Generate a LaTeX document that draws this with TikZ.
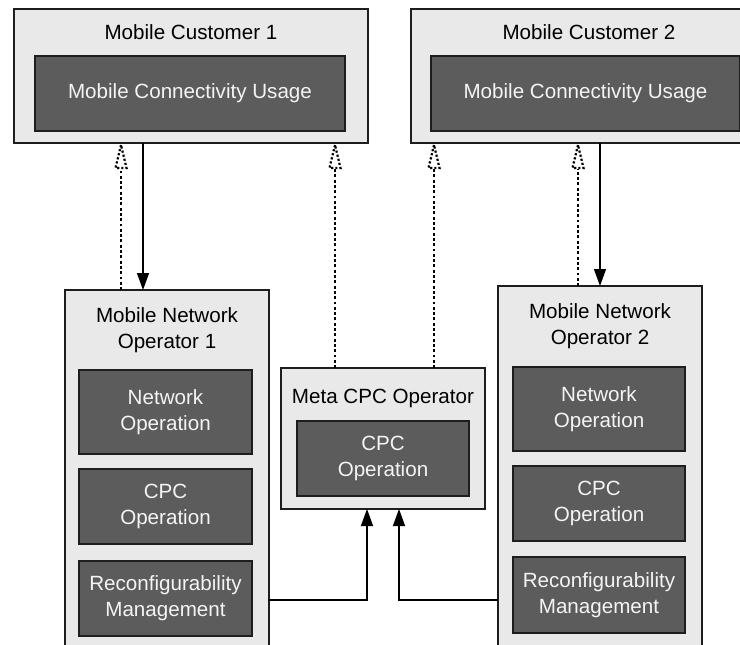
\documentclass[tikz,border=0pt]{standalone}
\usepackage{fontspec}
\setmainfont{Liberation Sans}
\usetikzlibrary{arrows.meta,calc}

\definecolor{panel}{HTML}{E9E9E9}
\definecolor{block}{HTML}{5C5C5C}
\definecolor{edge}{HTML}{1E1E1E}
\definecolor{blockfont}{HTML}{F4F4F4}

\begin{document}
\begin{tikzpicture}[x=1pt,y=-1pt,
  every node/.style={font=\fontsize{20.6}{26}\selectfont, inner sep=0pt, outer sep=0pt},
  panelbox/.style={draw=edge, fill=panel, line width=1.4pt, anchor=north west},
  blockbox/.style={draw=edge, fill=block, line width=1.5pt, anchor=north west,
                   text=blockfont, align=center},
  titletext/.style={text=black, align=center},
  feed/.style={draw=black, line width=1.4pt, -{Triangle[length=17pt,width=12pt]}},
  dotline/.style={draw=black, line width=2.9pt, dash pattern=on 2.9pt off 2.4pt},
  dothead/.style={draw=black, line width=2.2pt, dash pattern=on 2.2pt off 2.0pt},
]
\useasboundingbox (0,0) rectangle (740,645);
\fill[white] (0,0) rectangle (740,645);
\clip (0,0) rectangle (740,645);

% customers
\node[panelbox, minimum width=354pt, minimum height=134pt] (mc1) at (14,9) {};
\node[titletext, anchor=base] (mc1t) at (191,39) {Mobile Customer 1};
\node[blockbox, minimum width=310pt, minimum height=75pt] (mcu1) at (35,56) {Mobile Connectivity Usage};

\node[panelbox, minimum width=360pt, minimum height=134pt] (mc2) at (411,9) {};
\node[titletext, anchor=base] (mc2t) at (589,39) {Mobile Customer 2};
\node[blockbox, minimum width=309pt, minimum height=75pt] (mcu2) at (431,56) {Mobile Connectivity Usage};

% network operators
\node[panelbox, minimum width=204pt, minimum height=380pt] (mno1) at (65,290) {};
\node[titletext] (mno1t) at (167,330) {Mobile Network\\Operator 1};
\node[blockbox, minimum width=173pt, minimum height=84pt] (net1) at (79,370) {Network\\Operation};
\node[blockbox, minimum width=173pt, minimum height=75pt] (cpc1) at (79,469) {CPC\\Operation};
\node[blockbox, minimum width=173pt, minimum height=75pt] (rec1) at (79,561) {Reconfigurability\\Management};

\node[panelbox, minimum width=204pt, minimum height=380pt] (mno2) at (498,286) {};
\node[titletext] (mno2t) at (600,326) {Mobile Network\\Operator 2};
\node[blockbox, minimum width=172pt, minimum height=84pt] (net2) at (513,367) {Network\\Operation};
\node[blockbox, minimum width=172pt, minimum height=75pt] (cpc2) at (513,466) {CPC\\Operation};
\node[blockbox, minimum width=172pt, minimum height=76pt] (rec2) at (513,557) {Reconfigurability\\Management};

% meta operator
\node[panelbox, minimum width=204pt, minimum height=141pt] (meta) at (281,368) {};
\node[titletext, anchor=base] (metat) at (383,403) {Meta CPC Operator};
\node[blockbox, minimum width=172pt, minimum height=75pt] (cpcm) at (297,421) {CPC\\Operation};

% connector columns
\coordinate (xa) at (121,0);
\coordinate (xb) at (143,0);
\coordinate (xc) at (335,0);
\coordinate (xd) at (434,0);
\coordinate (xe) at (578,0);
\coordinate (xf) at (600,0);
\coordinate (xg) at (367,0);
\coordinate (xh) at (399,0);
\coordinate (ya) at (0,600);

% solid downward feeds
\draw[feed] (mc1.south -| xb) -- (mno1.north -| xb);
\draw[feed] (mc2.south -| xf) -- (mno2.north -| xf);

% dotted upward links with dotted open heads
\foreach \col/\src/\dst in {xa/mno1/mc1, xc/meta/mc1, xd/meta/mc2, xe/mno2/mc2}{
  \draw[dotline] (\src.north -| \col) -- ($(\dst.south -| \col)+(0,26)$);
  \draw[dothead] ($(\dst.south -| \col)+(0,2)$) -- ++(-5.5,23) -- ++(11,0) -- cycle;
}

% reconfiguration feeds into the meta operator
\draw[feed] (mno1.east |- ya) -| (meta.south -| xg);
\draw[feed] (mno2.west |- ya) -| (meta.south -| xh);
\end{tikzpicture}
\end{document}
